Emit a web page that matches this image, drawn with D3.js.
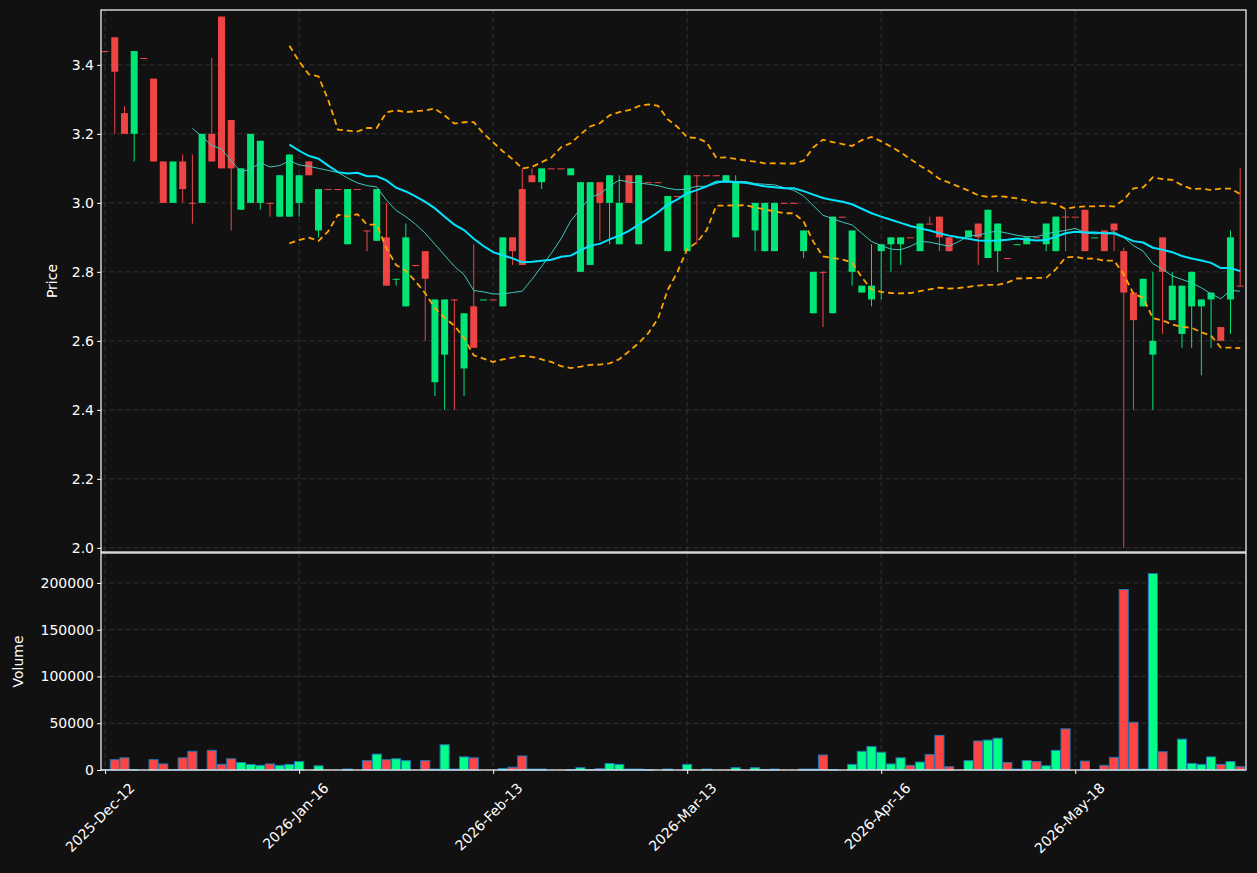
<!DOCTYPE html>
<html>
<head>
<meta charset="utf-8">
<script src="https://cdn.jsdelivr.net/npm/d3@7"></script>
<style>
  body { margin: 0; background: #111111; }
  svg text { font-family: "DejaVu Sans", sans-serif; fill: #ffffff; }
</style>
</head>
<body>
<div id="chart"></div>
<script>
// daily OHLC, index = trading day
let opens = [3.44,3.48,3.26,3.20,3.42,3.36,3.12,3.00,3.12,3.00,3.00,3.20,3.54,3.24,2.98,3.00,3.00,3.00,2.96,2.96,
  3.00,3.12,2.92,3.04,3.04,2.88,3.04,2.92,2.89,2.90,2.78,2.70,2.82,2.86,2.48,2.56,2.72,2.52,2.70,2.72,
  2.72,2.70,2.90,3.04,3.08,3.06,3.10,3.10,3.08,2.80,2.82,3.06,3.00,2.88,3.08,2.88,3.06,3.06,2.86,3.02,
  2.86,3.08,3.08,3.08,3.06,2.90,3.06,2.92,2.86,2.86,3.00,3.00,2.86,2.68,2.80,2.68,2.96,2.80,2.74,2.72,
  2.86,2.88,2.88,2.90,2.86,2.94,2.96,2.90,2.90,2.90,2.94,2.84,2.86,2.84,2.88,2.88,2.90,2.88,2.86,2.96,
  2.96,2.98,2.90,2.92,2.94,2.86,2.74,2.70,2.56,2.90,2.66,2.62,2.70,2.70,2.72,2.64,2.72,2.76]
let highs = [3.44,3.48,3.28,3.44,3.42,3.36,3.12,3.12,3.14,3.14,3.20,3.42,3.54,3.24,3.10,3.20,3.18,3.00,3.08,3.14,
  3.08,3.12,3.04,3.04,3.04,3.04,3.04,2.92,3.04,3.00,2.78,2.94,2.82,2.86,2.72,2.72,2.72,2.68,2.88,2.72,
  2.72,2.90,2.90,3.10,3.10,3.10,3.10,3.10,3.10,3.06,3.06,3.06,3.08,3.08,3.08,3.08,3.06,3.06,3.02,3.02,
  3.08,3.08,3.08,3.08,3.08,3.08,3.06,3.00,3.00,3.00,3.00,3.00,2.92,2.80,2.80,2.96,2.96,2.92,2.76,2.88,
  2.88,2.90,2.90,2.90,2.94,2.96,2.96,2.90,2.90,2.92,2.94,2.98,2.94,2.84,2.88,2.90,2.90,2.94,2.96,2.98,
  2.96,2.98,2.90,2.92,2.94,2.87,2.74,2.78,2.80,2.90,2.80,2.76,2.80,2.72,2.74,2.64,2.92,3.10]
let lows = [3.44,3.20,3.20,3.12,3.42,3.12,3.00,3.00,3.00,2.94,3.00,3.12,3.10,2.92,2.98,3.00,2.98,2.96,2.96,2.96,
  2.96,3.08,2.90,3.04,3.04,2.88,3.04,2.86,2.89,2.76,2.76,2.70,2.82,2.60,2.44,2.40,2.40,2.44,2.58,2.72,
  2.72,2.70,2.82,2.82,3.06,3.04,3.10,3.10,3.08,2.80,2.82,2.89,2.88,2.88,3.00,2.88,3.06,3.06,2.86,3.02,
  2.86,2.88,3.08,3.08,3.06,2.90,3.06,2.86,2.86,2.86,3.00,3.00,2.84,2.68,2.64,2.68,2.96,2.76,2.74,2.70,
  2.72,2.80,2.82,2.90,2.86,2.94,2.86,2.86,2.90,2.90,2.82,2.84,2.80,2.84,2.88,2.88,2.90,2.86,2.86,2.86,
  2.96,2.86,2.90,2.86,2.86,2.00,2.40,2.70,2.40,2.62,2.66,2.58,2.58,2.50,2.58,2.60,2.62,2.76]
let closes = [3.44,3.38,3.20,3.44,3.42,3.12,3.00,3.12,3.04,3.00,3.20,3.12,3.10,3.10,3.10,3.20,3.18,3.00,3.08,3.14,
  3.08,3.08,3.04,3.04,3.04,3.04,3.04,2.92,3.04,2.76,2.78,2.90,2.82,2.78,2.72,2.72,2.72,2.68,2.58,2.72,
  2.72,2.90,2.86,2.82,3.06,3.10,3.10,3.10,3.10,3.06,3.06,3.00,3.08,3.00,3.00,3.08,3.06,3.06,3.02,3.02,
  3.08,3.08,3.08,3.08,3.08,3.06,3.06,3.00,3.00,3.00,3.00,3.00,2.92,2.80,2.80,2.96,2.96,2.92,2.76,2.76,
  2.88,2.90,2.90,2.90,2.94,2.94,2.90,2.86,2.90,2.92,2.90,2.98,2.94,2.84,2.88,2.90,2.90,2.94,2.96,2.96,
  2.96,2.86,2.90,2.86,2.92,2.74,2.66,2.78,2.60,2.80,2.76,2.76,2.80,2.72,2.74,2.60,2.90,2.76]
let volumes = [500,11000,13000,500,0,11000,6500,500,13000,20000,500,21000,6000,12000,8000,6000,5000,6500,5000,6000,
  9000,0,4500,0,0,1000,0,10000,17000,11000,12000,10000,0,10000,1000,27000,1000,14000,13000,0,
  0,1500,3000,15000,1000,1000,0,0,500,2500,500,1500,7000,6000,1000,1000,500,0,1000,0,
  6000,0,1000,0,0,2500,0,2500,500,1000,0,0,1000,1000,16000,500,0,6000,20000,25000,
  19000,6500,13000,5000,8500,16500,37000,3500,0,10000,31000,32000,34000,8000,1000,10000,9000,4500,21000,44000,
  0,9500,500,5000,13500,193000,51000,1000,210000,19500,0,33000,7000,6000,14000,6000,9000,3500]
let tickIdx = [0, 20, 40, 60, 80, 100]
let tickLabels = ["2025-Dec-12", "2026-Jan-16", "2026-Feb-13", "2026-Mar-13", "2026-Apr-16", "2026-May-18"]

let up = '#00e676', down = '#ef4444'
let W = 1257, H = 873
let left = 101, right = 1246
let pTop = 10, pBot = 552, vTop = 553, vBot = 770

let bars = closes.map((c, i) => ({
  i, o: opens[i], h: highs[i], l: lows[i], c, v: volumes[i],
  up: c > opens[i] || (c === opens[i] && i > 0 && c > closes[i - 1])
}))

// moving averages and bollinger bands from closes
function sma(n) {
  return bars.map((d, i) => i < n - 1 ? null : d3.mean(closes.slice(i - n + 1, i + 1)))
}
let ma10 = sma(10), ma20 = sma(20)
let bbUp = ma20.map((m, i) => m == null ? null : m + 2 * d3.deviation(closes.slice(i - 19, i + 1)))
let bbLo = ma20.map((m, i) => m == null ? null : m - 2 * d3.deviation(closes.slice(i - 19, i + 1)))

let x = d3.scaleLinear().domain([-0.42, 117.6]).range([left, right])
let step = x(1) - x(0)
let y = d3.scaleLinear().domain([1.988, 3.559]).range([pBot, pTop])
let yv = d3.scaleLinear().domain([0, 232000]).range([vBot, vTop])

let svg = d3.select('#chart').append('svg')
  .attr('width', W).attr('height', H)
  .style('background', '#111111')

// grids
let priceTicks = d3.range(2.0, 3.41, 0.2)
let volTicks = [0, 50000, 100000, 150000, 200000]
let gridG = svg.append('g')
gridG.selectAll('.gp').data(priceTicks).join('line').attr('class', 'gp')
  .attr('x1', left).attr('x2', right).attr('y1', d => y(d)).attr('y2', d => y(d))
gridG.selectAll('.gv').data(volTicks).join('line').attr('class', 'gv')
  .attr('x1', left).attr('x2', right).attr('y1', d => yv(d)).attr('y2', d => yv(d))
gridG.selectAll('.gx1').data(tickIdx).join('line').attr('class', 'gx1')
  .attr('x1', d => x(d)).attr('x2', d => x(d)).attr('y1', pTop).attr('y2', pBot)
gridG.selectAll('.gx2').data(tickIdx).join('line').attr('class', 'gx2')
  .attr('x1', d => x(d)).attr('x2', d => x(d)).attr('y1', vTop).attr('y2', vBot)
gridG.selectAll('line').attr('stroke', '#3a3a3a').attr('stroke-dasharray', '5,3').attr('stroke-width', 0.8)

// candles
let cg = svg.append('g')
cg.selectAll('line').data(bars).join('line')
  .attr('x1', d => x(d.i)).attr('x2', d => x(d.i))
  .attr('y1', d => y(d.h)).attr('y2', d => y(d.l))
  .attr('stroke', d => d.up ? up : down).attr('stroke-width', 1)
cg.selectAll('rect').data(bars).join('rect')
  .attr('x', d => x(d.i) - step * 0.36)
  .attr('width', step * 0.72)
  .attr('y', d => y(Math.max(d.o, d.c)))
  .attr('height', d => Math.max(1, Math.abs(y(d.o) - y(d.c))))
  .attr('fill', d => d.up ? up : down)

// indicator lines
function drawLine(vals, color, width, dash) {
  let line = d3.line().defined(d => d != null).x((d, i) => x(i)).y(d => y(d))
  svg.append('path').datum(vals)
    .attr('d', line)
    .attr('fill', 'none').attr('stroke', color).attr('stroke-width', width)
    .attr('stroke-dasharray', dash || null)
}
drawLine(bbUp, '#ffa500', 1.8, '6,4')
drawLine(bbLo, '#ffa500', 1.8, '6,4')
drawLine(ma10, '#3fc9bd', 1)
drawLine(ma20, '#00e5ff', 2)

// volume
svg.append('g').selectAll('rect').data(bars.filter(d => d.v > 0)).join('rect')
  .attr('x', d => x(d.i) - step * 0.47)
  .attr('width', step * 0.94)
  .attr('y', d => yv(d.v))
  .attr('height', d => vBot - yv(d.v))
  .attr('fill', d => d.up ? '#00ff88' : '#ff4444')
  .attr('stroke', '#1f77b4').attr('stroke-width', 1)

// frames
svg.append('rect').attr('x', left).attr('y', pTop).attr('width', right - left).attr('height', pBot - pTop)
  .attr('fill', 'none').attr('stroke', '#ffffff').attr('stroke-width', 1.2)
svg.append('rect').attr('x', left).attr('y', vTop).attr('width', right - left).attr('height', vBot - vTop)
  .attr('fill', 'none').attr('stroke', '#ffffff').attr('stroke-width', 1.2)

// axes
let yAxis = svg.append('g').attr('transform', `translate(${left},0)`)
  .call(d3.axisLeft(y).tickValues(priceTicks).tickFormat(d3.format('.1f')).tickSize(4))
let vAxis = svg.append('g').attr('transform', `translate(${left},0)`)
  .call(d3.axisLeft(yv).tickValues(volTicks).tickFormat(d3.format('d')).tickSize(4))
let xAxis = svg.append('g').attr('transform', `translate(0,${vBot})`)
  .call(d3.axisBottom(x).tickValues(tickIdx).tickFormat((d, i) => tickLabels[i]).tickSize(4))
xAxis.selectAll('text')
  .attr('text-anchor', 'end')
  .attr('x', 0).attr('y', 0).attr('dy', '0.7em')
  .attr('transform', 'translate(23,12) rotate(-45)')
for (let g of [yAxis, vAxis, xAxis]) {
  g.select('.domain').remove()
  g.selectAll('line').attr('stroke', '#ffffff')
  g.selectAll('text').attr('font-size', 14).attr('fill', '#ffffff')
}

svg.append('text').attr('transform', `translate(57,${(pTop + pBot) / 2}) rotate(-90)`)
  .attr('text-anchor', 'middle').attr('font-size', 14).text('Price')
svg.append('text').attr('transform', `translate(23,${(vTop + vBot) / 2}) rotate(-90)`)
  .attr('text-anchor', 'middle').attr('font-size', 14).text('Volume')
</script>
</body>
</html>
